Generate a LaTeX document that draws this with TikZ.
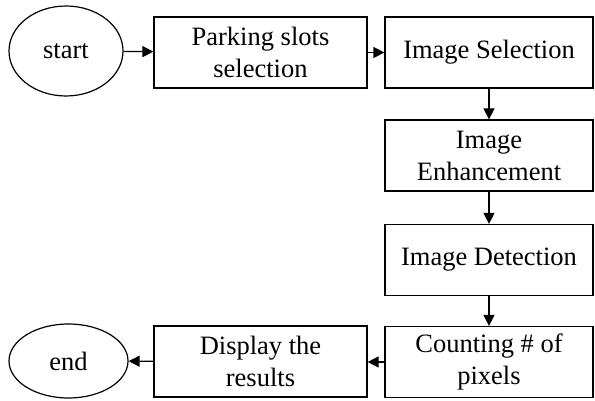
\documentclass[tikz,border=0pt]{standalone}
\usepackage{fontspec}
\setmainfont{Liberation Serif}
\usetikzlibrary{arrows.meta,shapes.geometric,positioning}

\begin{document}
\begin{tikzpicture}[
  x=1pt,y=-1pt,
  stepbox/.style={draw,line width=1.2pt,inner sep=2pt,minimum height=71pt,
    align=center,font=\fontsize{26.5}{32}\selectfont},
  terminal/.style={ellipse,draw,line width=1.2pt,inner sep=0pt,
    font=\fontsize{26.5}{32}\selectfont},
  every edge/.style={line width=1.2pt},
  >={Triangle[length=11pt,width=11pt]}]
  \useasboundingbox (0,0) rectangle (595,401);
  \node[terminal,minimum width=114pt,minimum height=90pt] (start) at (66,51) {start};
  \node[stepbox,minimum width=213pt] (slots) at (260.5,52.5) {Parking slots\\selection};
  \node[stepbox,minimum width=208pt] (select) at (489,52.5) {Image Selection};
  \node[stepbox,minimum width=208pt] (enhance) at (489,155.5) {Image\\Enhancement};
  \node[stepbox,minimum width=208pt] (detect) at (489,260) {Image Detection};
  \node[stepbox,minimum width=208pt] (count) at (489,362) {Counting \# of\\pixels};
  \node[stepbox,minimum width=213pt] (display) at (260.5,361.5) {Display the\\results};
  \node[terminal,minimum width=119pt,minimum height=74pt] (end) at (68.5,361) {end};

  \draw[->,line width=1.2pt] (start) -- (slots);
  \draw[->,line width=1.2pt] (slots) -- (select);
  \draw[->,line width=1.2pt] (select) -- (enhance);
  \draw[->,line width=1.2pt] (enhance) -- (detect);
  \draw[->,line width=1.2pt] (detect) -- (count);
  \draw[->,line width=1.2pt] (count.west) -- (display.east |- count.west);
  \draw[->,line width=1.2pt] (display) -- (end);
\end{tikzpicture}
\end{document}
